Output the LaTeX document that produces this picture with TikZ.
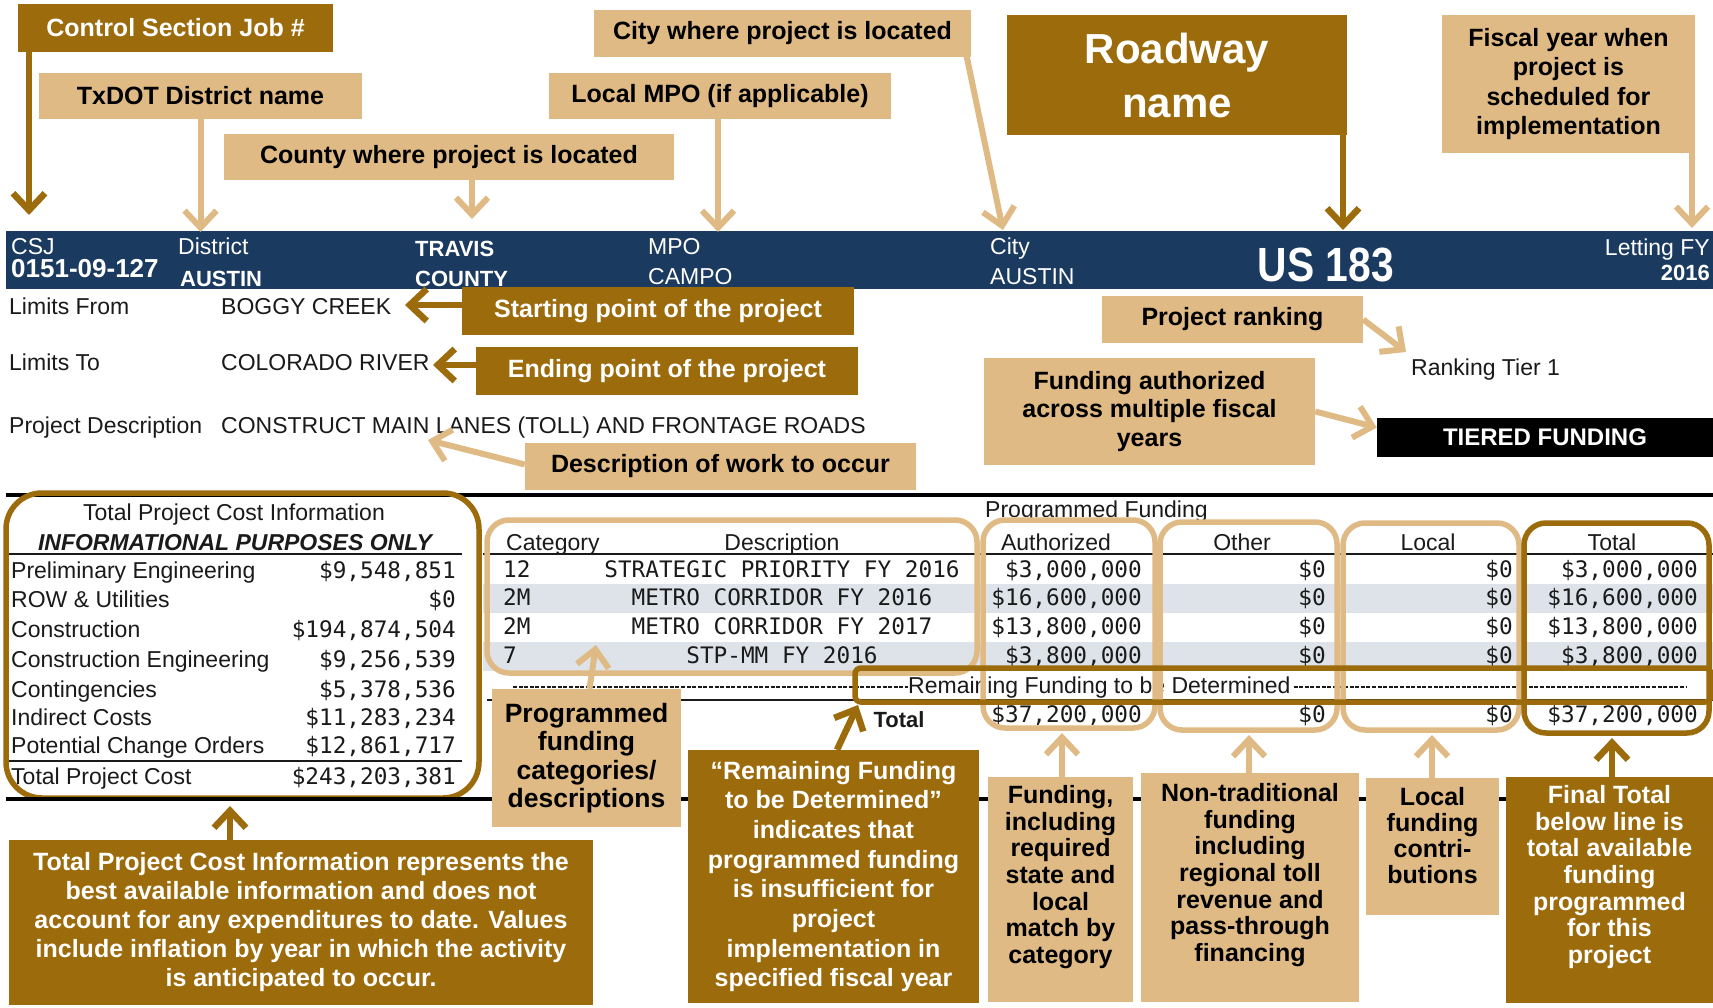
\documentclass[tikz,border=0pt]{standalone}
\usepackage{fontspec}
\setmainfont{Liberation Sans}
\newfontfamily\monof{DejaVu Sans Mono}
\newfontfamily\narrowb{Liberation Sans Bold}[FakeStretch=0.85]
\usetikzlibrary{arrows.meta}
\definecolor{goldc}{HTML}{9C6B0B}
\definecolor{tanc}{HTML}{DFBA84}
\definecolor{navyc}{HTML}{1B3A5F}
\definecolor{stripec}{HTML}{DDE3E9}
\definecolor{inkc}{HTML}{1A1A1A}
\newcommand\myfs[2]{\fontsize{#1}{#2}\selectfont}
\begin{document}
\begin{tikzpicture}[x=1pt,y=-1pt,
  annbox/.style={inner sep=0pt, align=center, font=\bfseries\myfs{25}{30}},
  darkbox/.style={annbox, fill=goldc, text=white},
  tanbox/.style={annbox, fill=tanc, text=black},
  garrow/.style={draw=goldc, line width=6.5pt, -{Straight Barb[length=17pt,width=32pt]}},
  tarrow/.style={draw=tanc, line width=6pt, -{Straight Barb[length=17pt,width=32pt]}},
  bartxt/.style={inner sep=0pt, text=white, font=\myfs{23}{23}},
  barbold/.style={inner sep=0pt, text=white, font=\bfseries\myfs{22}{22}},
  bodytxt/.style={inner sep=0pt, text=inkc, font=\myfs{23}{23}},
  monotxt/.style={inner sep=0pt, text=inkc, font=\monof\myfs{22.7}{23}},
  tanring/.style={draw=tanc, line width=5.5pt, rounded corners=22pt, inner sep=0pt},
  goldring/.style={draw=goldc, line width=5.5pt, rounded corners=22pt, inner sep=0pt},
]
\useasboundingbox (0,0) rectangle (1713,1008);
\fill[white] (0,0) rectangle (1713,1008);

% ---------- navy header bar ----------
\fill[navyc] (6,231) rectangle (1713,289);
\node[bartxt, anchor=base west] (lcsj) at (11,255) {CSJ};
\node[bartxt, anchor=base west, font=\bfseries\myfs{26}{26}] (vcsj) at (11,278) {0151-09-127};
\node[bartxt, anchor=base west] (ldist) at (178,255) {District};
\node[barbold, anchor=base west] (vdist) at (180,287) {AUSTIN};
\node[barbold, anchor=base west] (vcty1) at (415,257) {TRAVIS};
\node[barbold, anchor=base west] (vcty2) at (415,287) {COUNTY};
\node[bartxt, anchor=base west] (lmpo) at (648,255) {MPO};
\node[bartxt, anchor=base west] (vmpo) at (648,285) {CAMPO};
\node[bartxt, anchor=base west] (lcity) at (990,255) {City};
\node[bartxt, anchor=base west] (vcity) at (990,285) {AUSTIN};
\node[bartxt, anchor=base, font=\narrowb\myfs{48}{48}] (vroad) at (1326,282) {US 183};
\node[bartxt, anchor=base east] (lfy) at (1710,256) {Letting FY};
\node[barbold, anchor=base east] (vfy) at (1710,280) {2016};

% ---------- top annotation boxes ----------
\node[darkbox, minimum width=315pt, minimum height=48pt] (csj) at (175.5,28) {Control Section Job \#};
\node[tanbox, minimum width=323pt, minimum height=46pt] (dist) at (200.5,96) {TxDOT District name};
\node[tanbox, minimum width=450pt, minimum height=46pt] (county) at (449,157) {County where project is located};
\node[tanbox, minimum width=377pt, minimum height=47pt] (city) at (782.5,33.5) {City where project is located};
\node[tanbox, minimum width=342pt, minimum height=46pt] (mpo) at (720,96) {Local MPO (if applicable)};
\node[darkbox, minimum width=340pt, minimum height=120pt, font=\bfseries\myfs{42}{54}] (road) at (1177,75) {Roadway\\name};
\node[tanbox, minimum width=253pt, minimum height=138pt, font=\bfseries\myfs{25}{29.4}] (fiscal) at (1568.5,84) {Fiscal year when\\project is\\scheduled for\\implementation};

\coordinate (tcsj) at (29,215);
\coordinate (tdist) at (200.5,232);
\coordinate (tcounty) at (472,219);
\coordinate (tmpo) at (718,232);
\coordinate (tcity) at (1003,230);
\coordinate (troad) at (1343,230);
\coordinate (tfy) at (1692,228);
\draw[garrow] (csj.south -| tcsj) -- (tcsj);
\draw[tarrow] (dist.south) -- (tdist);
\draw[tarrow] (county.south -| tcounty) -- (tcounty);
\draw[tarrow] (mpo.south -| tmpo) -- (tmpo);
\draw[tarrow] ([xshift=-5pt,yshift=3pt]city.south east) -- (tcity);
\draw[garrow] (road.south -| troad) -- (troad);
\draw[tarrow] (fiscal.south -| tfy) -- (tfy);

% ---------- limits / description ----------
\node[bodytxt, anchor=base west] (lfrom) at (9,315) {Limits From};
\node[bodytxt, anchor=base west] (vfrom) at (221,315) {BOGGY CREEK};
\node[bodytxt, anchor=base west] (lto) at (9,370) {Limits To};
\node[bodytxt, anchor=base west] (vto) at (221,370) {COLORADO RIVER};
\node[bodytxt, anchor=base west] (ldesc) at (9,433) {Project Description};
\node[bodytxt, anchor=base west] (vdesc) at (221,433) {CONSTRUCT MAIN LANES (TOLL) AND FRONTAGE ROADS};
\node[bodytxt, anchor=base west] (rank) at (1411,375) {Ranking Tier 1};

\node[darkbox, minimum width=392pt, minimum height=48pt] (startbox) at (658,311) {Starting point of the project};
\node[darkbox, minimum width=382pt, minimum height=48pt] (endbox) at (667,371) {Ending point of the project};
\node[tanbox, minimum width=391pt, minimum height=47pt] (descw) at (720.5,466.5) {Description of work to occur};
\node[tanbox, minimum width=261pt, minimum height=47pt] (prank) at (1232.5,319.5) {Project ranking};
\node[tanbox, minimum width=331pt, minimum height=107pt, font=\bfseries\myfs{25}{28.5}] (fauth) at (1149.5,411.5) {Funding authorized\\across multiple fiscal\\years};
\node[fill=black, text=white, inner sep=0pt, font=\bfseries\myfs{24}{24}, minimum width=336pt, minimum height=39pt] (tiered) at (1545,437.5) {TIERED FUNDING};

\coordinate (tfrom) at (405,305);
\coordinate (tto) at (433,365);
\coordinate (tdesc) at (428,440);
\coordinate (trank) at (1406,352);
\draw[garrow] (startbox.west |- tfrom) -- (tfrom);
\draw[garrow] (endbox.west |- tto) -- (tto);
\draw[tarrow] ([yshift=2pt]descw.west) -- (tdesc);
\draw[tarrow] (prank.east) -- (trank);
\draw[tarrow] (fauth.east) -- ([yshift=10pt]tiered.west);

% ---------- separator lines ----------
\draw[line width=4pt, black] (6,495) -- (1713,495);

% ---------- right table background ----------
\fill[stripec] (483,584) rectangle (1713,613);
\fill[stripec] (483,642) rectangle (1713,671);
\draw[line width=1.5pt, inkc] (9,554) -- (462,554);
\draw[line width=1.5pt, inkc] (9,761) -- (462,761);
\draw[line width=1.5pt, inkc] (483,554) -- (1713,554);
\draw[line width=1.5pt, inkc] (487,700) -- (1713,700);

% ---------- left table ----------
\node[bodytxt, anchor=base] (tph1) at (234,520) {Total Project Cost Information};
\node[bodytxt, anchor=base, font=\bfseries\itshape\myfs{23}{23}] (tph2) at (235,550) {INFORMATIONAL PURPOSES ONLY};
\node[bodytxt, anchor=base west] (tl1) at (11,578) {Preliminary Engineering};
\node[bodytxt, anchor=base west] (tl2) at (11,607) {ROW \& Utilities};
\node[bodytxt, anchor=base west] (tl3) at (11,637) {Construction};
\node[bodytxt, anchor=base west] (tl4) at (11,667) {Construction Engineering};
\node[bodytxt, anchor=base west] (tl5) at (11,697) {Contingencies};
\node[bodytxt, anchor=base west] (tl6) at (11,725) {Indirect Costs};
\node[bodytxt, anchor=base west] (tl7) at (11,753) {Potential Change Orders};
\node[bodytxt, anchor=base west] (tl8) at (11,784) {Total Project Cost};
\node[monotxt, anchor=base east] (tv1) at (456,578) {\$9,548,851};
\node[monotxt, anchor=base east] (tv2) at (456,607) {\$0};
\node[monotxt, anchor=base east] (tv3) at (456,637) {\$194,874,504};
\node[monotxt, anchor=base east] (tv4) at (456,667) {\$9,256,539};
\node[monotxt, anchor=base east] (tv5) at (456,697) {\$5,378,536};
\node[monotxt, anchor=base east] (tv6) at (456,725) {\$11,283,234};
\node[monotxt, anchor=base east] (tv7) at (456,753) {\$12,861,717};
\node[monotxt, anchor=base east] (tv8) at (456,784) {\$243,203,381};

% ---------- right table ----------
\node[bodytxt, anchor=base west] (pfund) at (985,517) {Programmed Funding};
\node[bodytxt, anchor=base west] (hcat) at (506,550) {Category};
\node[bodytxt, anchor=base] (hdesc) at (782,550) {Description};
\node[bodytxt, anchor=base] (hauth) at (1056,550) {Authorized};
\node[bodytxt, anchor=base] (hoth) at (1242,550) {Other};
\node[bodytxt, anchor=base] (hloc) at (1428,550) {Local};
\node[bodytxt, anchor=base] (htot) at (1612,550) {Total};

\node[monotxt, anchor=base west] (c1) at (503,577) {12};
\node[monotxt, anchor=base west] (c2) at (503,605) {2M};
\node[monotxt, anchor=base west] (c3) at (503,634) {2M};
\node[monotxt, anchor=base west] (c4) at (503,663) {7};
\node[monotxt, anchor=base] (d1) at (782,577) {STRATEGIC PRIORITY FY 2016};
\node[monotxt, anchor=base] (d2) at (782,605) {METRO CORRIDOR FY 2016};
\node[monotxt, anchor=base] (d3) at (782,634) {METRO CORRIDOR FY 2017};
\node[monotxt, anchor=base] (d4) at (782,663) {STP-MM FY 2016};
\node[monotxt, anchor=base east] (a1) at (1142,577) {\$3,000,000};
\node[monotxt, anchor=base east] (a2) at (1142,605) {\$16,600,000};
\node[monotxt, anchor=base east] (a3) at (1142,634) {\$13,800,000};
\node[monotxt, anchor=base east] (a4) at (1142,663) {\$3,800,000};
\node[monotxt, anchor=base east] (o1) at (1326,577) {\$0};
\node[monotxt, anchor=base east] (o2) at (1326,605) {\$0};
\node[monotxt, anchor=base east] (o3) at (1326,634) {\$0};
\node[monotxt, anchor=base east] (o4) at (1326,663) {\$0};
\node[monotxt, anchor=base east] (l1) at (1513,577) {\$0};
\node[monotxt, anchor=base east] (l2) at (1513,605) {\$0};
\node[monotxt, anchor=base east] (l3) at (1513,634) {\$0};
\node[monotxt, anchor=base east] (l4) at (1513,663) {\$0};
\node[monotxt, anchor=base east] (s1) at (1698,577) {\$3,000,000};
\node[monotxt, anchor=base east] (s2) at (1698,605) {\$16,600,000};
\node[monotxt, anchor=base east] (s3) at (1698,634) {\$13,800,000};
\node[monotxt, anchor=base east] (s4) at (1698,663) {\$3,800,000};

\node[bodytxt, anchor=base west] (rem) at (908,693) {Remaining Funding to be Determined};
\draw[line width=1.3pt, inkc, dash pattern=on 4pt off 1.6pt] (513,687) -- (rem.west |- 0,687);
\draw[line width=1.3pt, inkc, dash pattern=on 4pt off 1.6pt] (rem.east |- 0,687) ++(3,0) -- (1686,687);

\node[bodytxt, anchor=base, font=\bfseries\myfs{22}{22}] (totl) at (899,727) {Total};
\node[monotxt, anchor=base east] (at) at (1142,722) {\$37,200,000};
\node[monotxt, anchor=base east] (ot) at (1326,722) {\$0};
\node[monotxt, anchor=base east] (lt) at (1513,722) {\$0};
\node[monotxt, anchor=base east] (st) at (1698,722) {\$37,200,000};

% ---------- highlight rings ----------
\node[goldring, rounded corners=36pt, minimum width=473pt, minimum height=305pt] (tpcbox) at (242.5,645.5) {};
\node[tanring, minimum width=490pt, minimum height=153pt] (catbox) at (732,596.5) {};
\node[tanring, minimum width=172pt, minimum height=208pt] (authbox) at (1069,624) {};
\node[tanring, minimum width=177pt, minimum height=208pt] (othbox) at (1248.5,626) {};
\node[tanring, minimum width=176pt, minimum height=207pt] (locbox) at (1431,626.5) {};
\node[goldring, minimum width=185pt, minimum height=210pt] (totbox) at (1616.5,628) {};
\node[goldring, rounded corners=6pt, minimum width=856pt, minimum height=34pt] (rembox) at (1283,685) {};

% ---------- lower line ----------
\draw[line width=3.5pt, black] (6,799) -- (1713,799);

% ---------- bottom annotation boxes ----------
\node[darkbox, minimum width=584pt, minimum height=165pt, font=\bfseries\myfs{25}{29}] (tpcnote) at (301,922.5) {Total Project Cost Information represents the\\best available information and does not\\account for any expenditures to date. Values\\include inflation by year in which the activity\\is anticipated to occur.};
\node[tanbox, minimum width=189pt, minimum height=138pt, font=\bfseries\myfs{26.5}{28.5}] (progcat) at (586.5,758) {Programmed\\funding\\categories/\\descriptions};
\node[darkbox, minimum width=291pt, minimum height=253pt, font=\bfseries\myfs{25}{29.7}] (remain) at (833.5,876.5) {“Remaining Funding\\to be Determined”\\indicates that\\programmed funding\\is insufficient for\\project\\implementation in\\specified fiscal year};
\node[tanbox, minimum width=145pt, minimum height=225pt] (fund) at (1060.5,889.5) {};
\node[tanbox, minimum width=218pt, minimum height=229pt] (nontrad) at (1250,887.5) {};
\node[tanbox, minimum width=133pt, minimum height=137pt] (localc) at (1432.5,846.5) {};
\node[darkbox, minimum width=207pt, minimum height=226pt] (final) at (1609.5,890) {};
\node[annbox, text=black, anchor=north, font=\bfseries\myfs{25}{26.7}] (fundt) at (1060.5,785) {Funding,\\including\\required\\state and\\local\\match by\\category};
\node[annbox, text=black, anchor=north, font=\bfseries\myfs{25}{26.7}] (nontradt) at (1250,783) {Non-traditional\\funding\\including\\regional toll\\revenue and\\pass-through\\financing};
\node[annbox, text=black, anchor=north, font=\bfseries\myfs{25}{26.2}] (localt) at (1432.5,787) {Local\\funding\\contri-\\butions};
\node[annbox, text=white, anchor=north, font=\bfseries\myfs{25}{26.7}] (finalt) at (1609.5,785) {Final Total\\below line is\\total available\\funding\\programmed\\for this\\project};

\coordinate (ttpc) at (230,806);
\coordinate (tprog) at (596,645);
\coordinate (trem) at (858,705);
\coordinate (tfund) at (1062,733);
\coordinate (tnon) at (1249,735);
\coordinate (tloc) at (1432,735);
\coordinate (ttot) at (1612,738);
\draw[garrow] (tpcnote.north -| ttpc) -- (ttpc);
\draw[tarrow] ([xshift=3pt]progcat.north) -- (tprog);
\draw[garrow] ([xshift=3.5pt]remain.north) -- (trem);
\draw[tarrow] (fund.north -| tfund) -- (tfund);
\draw[tarrow] (nontrad.north -| tnon) -- (tnon);
\draw[tarrow] (localc.north -| tloc) -- (tloc);
\draw[garrow] (final.north -| ttot) -- (ttot);
\end{tikzpicture}
\end{document}
